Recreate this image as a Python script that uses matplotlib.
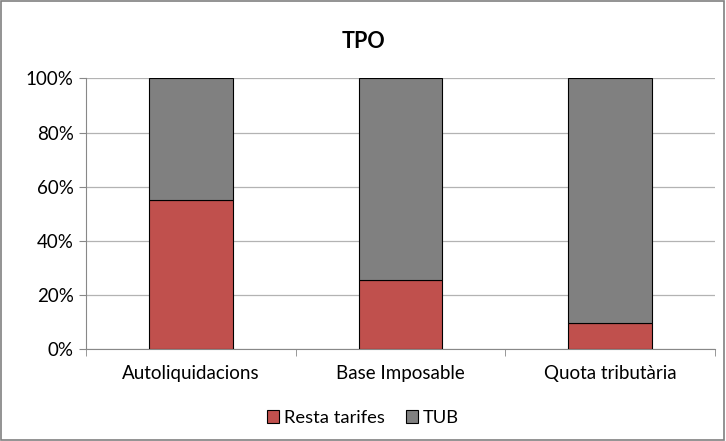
import numpy as np
import matplotlib.pyplot as plt
from matplotlib.patches import Rectangle

categories = ['Autoliquidacions', 'Base Imposable', 'Quota tributària']
resta_tarifes = [55.2, 25.5, 9.7]
tub = [44.8, 74.5, 90.3]

plt.rcParams['font.family'] = ['Lato', 'DejaVu Sans']

fig = plt.figure(figsize=(7.26, 4.41), dpi=100)
ax = fig.add_axes([86 / 726, 1 - 349.3 / 441, 629 / 726, 271 / 441])

x = np.arange(len(categories))
ax.bar(x, resta_tarifes, width=0.4, color='#C0504D', edgecolor='black', linewidth=0.8,
       label='Resta tarifes', zorder=3)
ax.bar(x, tub, width=0.4, bottom=resta_tarifes, color='#808080', edgecolor='black',
       linewidth=0.8, label='TUB', zorder=3)

ax.set_xlim(-0.5, 2.5)
ax.set_ylim(0, 100)
ax.set_yticks(np.arange(0, 101, 20))
ax.set_yticklabels([f'{v}%' for v in range(0, 101, 20)], fontsize=13.5)
ax.yaxis.grid(True, color='#b3b3b3', linewidth=0.9, zorder=0)

ax.set_xticks(x)
ax.set_xticklabels(categories, fontsize=13.5)
ax.tick_params(axis='x', length=0, pad=11)
ax.set_xticks([-0.5, 0.5, 1.5, 2.5], minor=True)
ax.tick_params(axis='x', which='minor', length=5, color='#888888')
ax.tick_params(axis='y', length=5, color='#888888', pad=4)

for s in ['top', 'right']:
    ax.spines[s].set_visible(False)
for s in ['left', 'bottom']:
    ax.spines[s].set_color('#888888')

fig.text(0.5, 1 - 41 / 441, 'TPO', ha='center', va='center', fontsize=15.5, fontweight='bold')

fig.legend(loc='center', bbox_to_anchor=(0.5, 1 - 418 / 441), ncol=2, frameon=False,
           fontsize=13.2, handlelength=0.65, handleheight=0.65, handletextpad=0.25,
           columnspacing=1.2)

fig.patches.append(Rectangle((0.002, 0.003), 0.995, 0.994, transform=fig.transFigure,
                             fill=False, edgecolor='#808080', linewidth=1.2))

fig.savefig('out.png', dpi=100)
